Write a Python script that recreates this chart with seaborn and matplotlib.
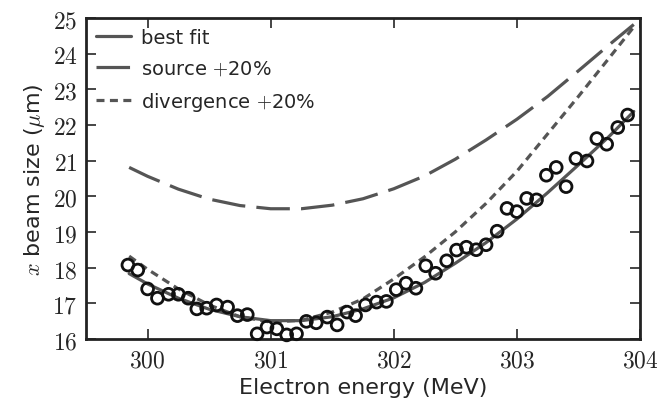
import numpy as np
import pandas as pd
import matplotlib
matplotlib.use("Agg")
import matplotlib.pyplot as plt
import seaborn as sns

# medidas (pontos)
energia = [299.84, 299.92, 300.00, 300.08, 300.17, 300.25, 300.33, 300.40, 300.48, 300.56,
           300.65, 300.73, 300.81, 300.89, 300.97, 301.05, 301.13, 301.21, 301.29, 301.37,
           301.46, 301.54, 301.62, 301.69, 301.77, 301.86, 301.94, 302.02, 302.10, 302.18,
           302.26, 302.34, 302.43, 302.51, 302.59, 302.67, 302.75, 302.84, 302.92, 303.00,
           303.08, 303.16, 303.24, 303.32, 303.40, 303.48, 303.57, 303.65, 303.73, 303.82,
           303.90]
tamanho = [18.07, 17.93, 17.40, 17.14, 17.25, 17.25, 17.14, 16.84, 16.86, 16.95,
           16.89, 16.65, 16.68, 16.14, 16.33, 16.28, 16.11, 16.14, 16.49, 16.45,
           16.61, 16.39, 16.75, 16.65, 16.95, 17.03, 17.05, 17.38, 17.56, 17.42,
           18.05, 17.84, 18.19, 18.49, 18.57, 18.50, 18.64, 19.02, 19.66, 19.57,
           19.94, 19.90, 20.59, 20.81, 20.27, 21.06, 20.99, 21.62, 21.46, 21.93,
           22.28]

# curvas
energia_curva = [299.85, 300.0, 300.25, 300.5, 300.75, 301.0, 301.25, 301.5, 301.75,
                 302.0, 302.25, 302.5, 302.75, 303.0, 303.25, 303.5, 303.75, 303.95]
melhor_ajuste = [17.83, 17.54, 17.14, 16.83, 16.62, 16.51, 16.51, 16.62, 16.84,
                 17.15, 17.58, 18.12, 18.70, 19.36, 20.10, 20.88, 21.68, 22.38]
fonte_20 = [20.81, 20.56, 20.20, 19.92, 19.74, 19.65, 19.65, 19.75, 19.93,
            20.21, 20.57, 21.04, 21.58, 22.16, 22.80, 23.52, 24.25, 24.82]
divergencia_20 = [18.32, 17.95, 17.40, 16.95, 16.62, 16.47, 16.52, 16.75, 17.12,
                  17.68, 18.30, 19.00, 19.80, 20.70, 21.75, 22.80, 23.88, 24.75]

xticks = [300, 301, 302, 303, 304]
yticks = [16, 17, 18, 19, 20, 21, 22, 23, 24, 25]

sns.set_style("ticks")
plt.rcParams['font.family'] = ['DejaVu Sans']
plt.rcParams['mathtext.fontset'] = 'cm'

fig = plt.figure(figsize=(6.57, 4.06), dpi=100)
ax = fig.add_axes([0.131, 0.163, 0.843, 0.790])

cinza = "#555555"
df = pd.DataFrame({"E": energia_curva, "fit": melhor_ajuste,
                   "src": fonte_20, "div": divergencia_20})
sns.lineplot(data=df, x="E", y="fit", ax=ax, color=cinza, linewidth=2.3,
             label="best fit")
sns.lineplot(data=df, x="E", y="src", ax=ax, color=cinza, linewidth=2.3,
             linestyle=(0, (10.5, 3.5)), label=r"source $+$20%")
sns.lineplot(data=df, x="E", y="div", ax=ax, color=cinza, linewidth=2.3,
             linestyle=(0, (2.5, 1.7)), label=r"divergence $+$20%")

pontos = pd.DataFrame({"E": energia, "s": tamanho})
sns.scatterplot(data=pontos, x="E", y="s", ax=ax, marker="o", s=72,
                facecolor="none", edgecolor="#111111", linewidth=2.0,
                zorder=5, clip_on=False)

ax.set_xlim(299.5, 304)
ax.set_ylim(16, 25)
ax.set_xticks(xticks)
ax.set_yticks(yticks)
ax.set_xticklabels([f"${v}$" for v in xticks], fontsize=17)
ax.set_yticklabels([f"${v}$" for v in yticks], fontsize=17)
ax.tick_params(direction="in", length=7, width=1.2, top=True, right=True, pad=6)
for sp in ax.spines.values():
    sp.set_linewidth(2)
    sp.set_color("#222222")

ax.set_xlabel("Electron energy (MeV)", fontsize=16)
ax.set_ylabel(r"$x$ beam size ($\mu$m)", fontsize=16)

leg = ax.legend(loc="upper left", frameon=False, fontsize=14, handlelength=1.8,
                handletextpad=0.5, borderaxespad=0.1, labelspacing=0.62)

plt.savefig("out.png", dpi=100)
